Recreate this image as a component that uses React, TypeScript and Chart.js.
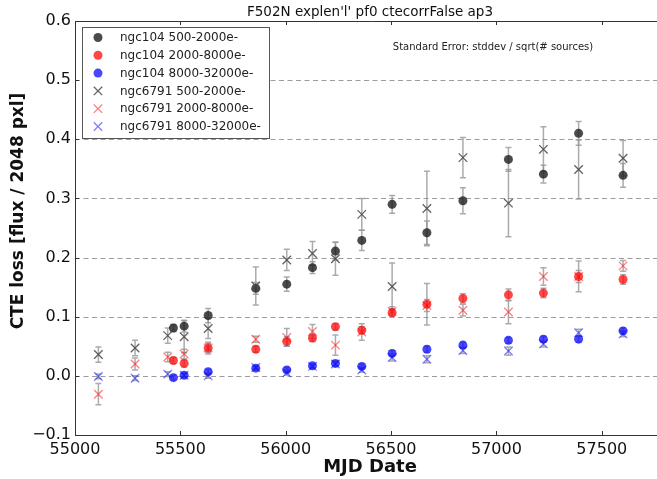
import React, { useEffect, useRef } from 'react';
import { Chart, registerables } from 'chart.js';

Chart.register(...registerables);

const FONT = "'DejaVu Sans', 'Liberation Sans', sans-serif";
const TITLE = "F502N explen'l' pf0 ctecorrFalse ap3";
const NOTE = 'Standard Error: stddev / sqrt(# sources)';
const X_LABEL = 'MJD Date';
const Y_LABEL = 'CTE loss [flux / 2048 pxl]';

const X_TICKS = [55000, 55500, 56000, 56500, 57000, 57500];
const Y_TICKS = [-0.1, 0.0, 0.1, 0.2, 0.3, 0.4, 0.5, 0.6];
const X_MIN = 55000;
const X_MAX = 57800;

// ngc104 observation dates and values
const mjd104 = [55467, 55518, 55632, 55858, 56005, 56127, 56236, 56361, 56505, 56670, 56841, 57057, 57223, 57390, 57601];
const ngc104Low = [0.081, 0.084, 0.102, 0.148, 0.155, 0.183, 0.211, 0.229, 0.290, 0.242, 0.296, 0.366, 0.341, 0.410, 0.339];
const ngc104LowErr = [0.006, 0.01, 0.012, 0.01, 0.012, 0.01, 0.015, 0.017, 0.015, 0.02, 0.022, 0.02, 0.015, 0.02, 0.02];
const ngc104Mid = [0.026, 0.021, 0.047, 0.045, 0.058, 0.064, 0.083, 0.077, 0.107, 0.121, 0.131, 0.137, 0.140, 0.168, 0.163];
const ngc104MidErr = [0.005, 0.006, 0.008, 0.005, 0.008, 0.006, 0.005, 0.006, 0.006, 0.035, 0.008, 0.01, 0.008, 0.01, 0.008];
const ngc104High = [-0.003, 0.001, 0.007, 0.013, 0.010, 0.017, 0.021, 0.016, 0.038, 0.045, 0.052, 0.060, 0.062, 0.062, 0.076];
const ngc104HighErr = [0.004, 0.004, 0.004, 0.003, 0.004, 0.003, 0.004, 0.004, 0.005, 0.005, 0.005, 0.005, 0.005, 0.005, 0.005];

// ngc6791 observation dates and values
const mjd6791 = [55111, 55285, 55440, 55518, 55632, 55858, 56005, 56127, 56236, 56361, 56505, 56670, 56841, 57057, 57223, 57390, 57601];
const ngc6791Low = [0.036, 0.047, 0.068, 0.066, 0.080, 0.152, 0.196, 0.207, 0.198, 0.273, 0.151, 0.283, 0.369, 0.292, 0.383, 0.349, 0.368];
const ngc6791LowErr = [0.013, 0.013, 0.013, 0.027, 0.017, 0.032, 0.018, 0.02, 0.028, 0.027, 0.04, 0.063, 0.034, 0.057, 0.038, 0.05, 0.03];
const ngc6791Mid = [-0.031, 0.020, 0.032, 0.037, 0.047, 0.062, 0.065, 0.075, 0.052, 0.074, 0.109, 0.119, 0.111, 0.108, 0.168, 0.168, 0.186];
const ngc6791MidErr = [0.018, 0.01, 0.008, 0.008, 0.01, 0.005, 0.015, 0.012, 0.017, 0.014, 0.008, 0.01, 0.01, 0.02, 0.015, 0.026, 0.009];
const ngc6791High = [-0.001, -0.004, 0.003, 0.001, 0.0, 0.014, 0.005, 0.016, 0.020, 0.010, 0.031, 0.028, 0.043, 0.042, 0.054, 0.073, 0.071];
const ngc6791HighErr = [0.004, 0.004, 0.004, 0.003, 0.004, 0.003, 0.004, 0.004, 0.004, 0.004, 0.006, 0.006, 0.005, 0.007, 0.005, 0.006, 0.005];

const LABELS = [
  'ngc104 500-2000e-',
  'ngc104 2000-8000e-',
  'ngc104 8000-32000e-',
  'ngc6791 500-2000e-',
  'ngc6791 2000-8000e-',
  'ngc6791 8000-32000e-',
];

type Series = { label: string; x: number[]; y: number[]; err: number[]; marker: 'circle' | 'cross'; color: string };

const SERIES: Series[] = [
  { label: LABELS[0], x: mjd104, y: ngc104Low, err: ngc104LowErr, marker: 'circle', color: 'rgba(30,30,30,0.8)' },
  { label: LABELS[1], x: mjd104, y: ngc104Mid, err: ngc104MidErr, marker: 'circle', color: 'rgba(255,10,10,0.75)' },
  { label: LABELS[2], x: mjd104, y: ngc104High, err: ngc104HighErr, marker: 'circle', color: 'rgba(10,10,255,0.75)' },
  { label: LABELS[3], x: mjd6791, y: ngc6791Low, err: ngc6791LowErr, marker: 'cross', color: 'rgba(70,70,70,0.85)' },
  { label: LABELS[4], x: mjd6791, y: ngc6791Mid, err: ngc6791MidErr, marker: 'cross', color: 'rgba(255,0,0,0.5)' },
  { label: LABELS[5], x: mjd6791, y: ngc6791High, err: ngc6791HighErr, marker: 'cross', color: 'rgba(0,0,255,0.5)' },
];

function drawMarker(ctx: CanvasRenderingContext2D, marker: string, color: string, x: number, y: number) {
  if (marker === 'circle') {
    ctx.fillStyle = color;
    ctx.beginPath();
    ctx.arc(x, y, 4.5, 0, Math.PI * 2);
    ctx.fill();
  } else {
    const h = 4.2;
    ctx.strokeStyle = color;
    ctx.lineWidth = 1.3;
    ctx.beginPath();
    ctx.moveTo(x - h, y - h);
    ctx.lineTo(x + h, y + h);
    ctx.moveTo(x + h, y - h);
    ctx.lineTo(x - h, y + h);
    ctx.stroke();
  }
}

const decor = {
  id: 'decor',
  beforeDatasetsDraw(chart: any) {
    const { ctx, chartArea: a, scales } = chart;
    const xs = scales.x;
    const ys = scales.y;
    ctx.save();
    // dashed horizontal grid
    ctx.strokeStyle = '#9c9c9c';
    ctx.lineWidth = 1.2;
    ctx.setLineDash([5, 3.5]);
    for (const v of Y_TICKS) {
      const py = Math.round(ys.getPixelForValue(v)) + 0.5;
      if (py <= a.top + 1 || py >= a.bottom - 1) continue;
      ctx.beginPath();
      ctx.moveTo(a.left, py);
      ctx.lineTo(a.right, py);
      ctx.stroke();
    }
    ctx.setLineDash([]);
    // error bars
    ctx.strokeStyle = 'rgba(150,150,150,0.8)';
    ctx.lineWidth = 1.5;
    for (const s of SERIES) {
      for (let i = 0; i < s.x.length; i++) {
        const px = xs.getPixelForValue(s.x[i]);
        const t = ys.getPixelForValue(s.y[i] + s.err[i]);
        const b = ys.getPixelForValue(s.y[i] - s.err[i]);
        ctx.beginPath();
        ctx.moveTo(px, t);
        ctx.lineTo(px, b);
        ctx.moveTo(px - 3, t);
        ctx.lineTo(px + 3, t);
        ctx.moveTo(px - 3, b);
        ctx.lineTo(px + 3, b);
        ctx.stroke();
      }
    }
    ctx.restore();
  },
  afterDatasetsDraw(chart: any) {
    const { ctx, chartArea: a, scales } = chart;
    const xs = scales.x;
    const ys = scales.y;
    ctx.save();
    ctx.strokeStyle = '#333';
    ctx.lineWidth = 1;
    const l = Math.round(a.left) + 0.5;
    const t = Math.round(a.top) + 0.5;
    const b = Math.round(a.bottom) + 0.5;
    const r = a.right + 2;
    ctx.beginPath();
    ctx.moveTo(r, t);
    ctx.lineTo(l, t);
    ctx.lineTo(l, b);
    ctx.lineTo(r, b);
    ctx.stroke();
    ctx.beginPath();
    for (const v of X_TICKS) {
      const px = Math.round(xs.getPixelForValue(v)) + 0.5;
      ctx.moveTo(px, a.bottom);
      ctx.lineTo(px, a.bottom - 4);
      ctx.moveTo(px, a.top);
      ctx.lineTo(px, a.top + 4);
    }
    for (const v of Y_TICKS) {
      const py = Math.round(ys.getPixelForValue(v)) + 0.5;
      ctx.moveTo(a.left, py);
      ctx.lineTo(a.left + 4, py);
    }
    ctx.stroke();
    ctx.restore();
  },
  afterDraw(chart: any) {
    const { ctx, chartArea: a } = chart;
    ctx.save();
    // legend
    const bx = a.left + 7;
    const by = a.top + 6;
    const bw = 187;
    const bh = 111;
    ctx.fillStyle = '#fff';
    ctx.fillRect(bx, by, bw, bh);
    ctx.strokeStyle = '#555';
    ctx.lineWidth = 1;
    ctx.strokeRect(Math.round(bx) + 0.5, Math.round(by) + 0.5, bw, bh);
    ctx.font = `12px ${FONT}`;
    ctx.textAlign = 'left';
    ctx.textBaseline = 'middle';
    SERIES.forEach((s, i) => {
      const ry = by + 10.5 + i * 17.8;
      drawMarker(ctx, s.marker, s.color, bx + 16, ry);
      ctx.fillStyle = '#222';
      ctx.fillText(s.label, bx + 38, ry + 0.5);
    });
    // note
    ctx.fillStyle = '#222';
    ctx.font = `10px ${FONT}`;
    ctx.textAlign = 'center';
    ctx.fillText(NOTE, a.left + 418, a.top + 26);
    // title
    const cx = (a.left + a.right) / 2;
    ctx.fillStyle = '#111';
    ctx.font = `13.5px ${FONT}`;
    ctx.fillText(TITLE, cx, 12);
    // x label
    ctx.font = `bold 18px ${FONT}`;
    ctx.fillText(X_LABEL, cx, 467);
    // y label
    ctx.save();
    ctx.translate(19, 211);
    ctx.rotate(-Math.PI / 2);
    ctx.font = `bold 17px ${FONT}`;
    ctx.fillText(Y_LABEL, 0, 0);
    ctx.restore();
    ctx.restore();
  },
};

export default function App() {
  const ref = useRef<HTMLCanvasElement | null>(null);

  useEffect(() => {
    if (!ref.current) return;
    const datasets = SERIES.map((s) => ({
      label: s.label,
      data: s.x.map((x, i) => ({ x, y: s.y[i] })),
      pointStyle: s.marker === 'circle' ? 'circle' : 'crossRot',
      pointRadius: s.marker === 'circle' ? 4.5 : 6,
      pointBorderWidth: s.marker === 'circle' ? 0 : 1.3,
      pointBackgroundColor: s.color,
      pointBorderColor: s.color,
      showLine: false,
      order: s.marker === 'circle' ? 1 : 0,
    }));
    const chart = new Chart(ref.current, {
      type: 'scatter',
      data: { datasets },
      plugins: [decor],
      options: {
        animation: false,
        responsive: false,
        devicePixelRatio: 1,
        layout: { padding: { left: 0, right: 55, top: 21, bottom: 0 } },
        plugins: { legend: { display: false }, tooltip: { enabled: false }, title: { display: false } },
        scales: {
          x: {
            type: 'linear',
            min: X_MIN,
            max: X_MAX,
            afterBuildTicks: (s: any) => {
              s.ticks = X_TICKS.map((v) => ({ value: v }));
            },
            afterFit: (s: any) => {
              s.height = 44;
            },
            grid: { display: false, drawTicks: false },
            border: { display: false },
            ticks: {
              autoSkip: false,
              maxRotation: 0,
              padding: 5,
              color: '#111',
              font: { family: FONT, size: 16 },
              callback: (v: any) => String(v),
            },
          },
          y: {
            type: 'linear',
            min: Y_TICKS[0],
            max: Y_TICKS[Y_TICKS.length - 1],
            afterBuildTicks: (s: any) => {
              s.ticks = Y_TICKS.map((v) => ({ value: v }));
            },
            afterFit: (s: any) => {
              s.width = 75;
            },
            grid: { display: false, drawTicks: false },
            border: { display: false },
            ticks: {
              padding: 4,
              color: '#111',
              font: { family: FONT, size: 16 },
              callback: (v: any) => Number(v).toFixed(1).replace('-', '\u2212'),
            },
          },
        },
      },
    } as any);
    return () => chart.destroy();
  }, []);

  return (
    <div style={{ position: 'fixed', left: 0, top: 0, width: 657, height: 479, overflow: 'hidden', background: '#fff' }}>
      <canvas ref={ref} width={720} height={479} style={{ width: 720, height: 479, display: 'block' }} />
    </div>
  );
}
